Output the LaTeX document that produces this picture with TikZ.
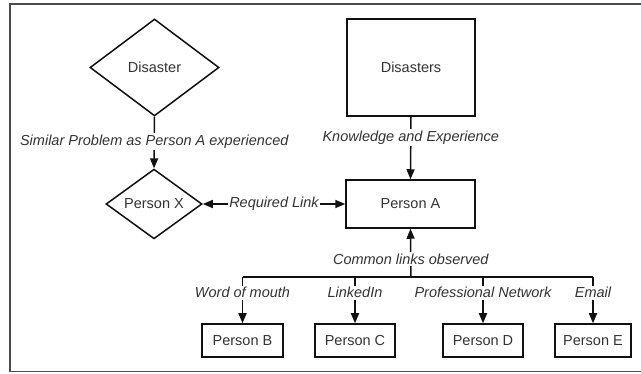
\documentclass[tikz,border=0pt]{standalone}
\usepackage{fontspec}
\setmainfont{Liberation Sans}
\usetikzlibrary{shapes.geometric,arrows.meta}
\definecolor{txt}{HTML}{333333}
\definecolor{ln}{HTML}{111111}
\tikzset{
  base/.style={draw=ln, line width=1.5pt, text=txt, inner sep=0pt, font=\fontsize{14.5}{16}\selectfont},
  dia/.style={base, diamond, minimum width=#1},
  boxnode/.style={base, rectangle},
  conn/.style={draw=ln, line width=1.5pt, -{Triangle[length=10pt,width=8pt]}},
  lbl/.style={fill=white, text=txt, inner sep=1.5pt, font=\fontsize{14.5}{16}\selectfont\itshape}
}
\begin{document}
\begin{tikzpicture}[x=1pt,y=-1pt]
\useasboundingbox (0,0) rectangle (641,374);
\draw[draw=gray!60!black, line width=1.3pt] (642,4) -- (10,4) -- (10,371.5) -- (642,371.5);

\node[dia=129pt, minimum height=97pt] (dis) at (154.5,67.5) {Disaster};
\node[dia=96pt, minimum height=48pt] (px) at (154,204) {Person X};
\node[boxnode, minimum width=128pt, minimum height=97pt] (diss) at (411,67.5) {Disasters};
\node[boxnode, minimum width=129pt, minimum height=48pt] (pa) at (410.5,204) {Person A};
\node[boxnode, minimum width=81pt, minimum height=33pt] (pb) at (242.5,340.5) {Person B};
\node[boxnode, minimum width=80pt, minimum height=33pt] (pc) at (355,340.5) {Person C};
\node[boxnode, minimum width=80pt, minimum height=33pt] (pd) at (483,340.5) {Person D};
\node[boxnode, minimum width=76pt, minimum height=33pt] (pe) at (593,340.5) {Person E};

\coordinate (bus) at (411,277);
\coordinate (busb) at (242.5,277);
\coordinate (busc) at (355,277);
\coordinate (busd) at (483,277);
\coordinate (buse) at (593,277);

\draw[conn] (dis.south) -- node[lbl, pos=0.48] {Similar Problem as Person A experienced} (px.north);
\draw[conn] (diss.south) -- node[lbl, pos=0.33] {Knowledge and Experience} (pa.north);
\draw[conn, {Triangle[length=10pt,width=8pt]}-{Triangle[length=10pt,width=8pt]}] (px.east) -- node[lbl, inner sep=1pt] {Required Link} (pa.west);
\draw[conn] (bus) -- node[lbl, pos=0.37] {Common links observed} (pa.south);
\draw[draw=ln, line width=1.5pt] (busb) -- (buse);
\draw[conn] (busb) -- node[lbl, pos=0.34] {Word of mouth} (pb.north);
\draw[conn] (busc) -- node[lbl, pos=0.34] {LinkedIn} (pc.north);
\draw[conn] (busd) -- node[lbl, pos=0.34] {Professional Network} (pd.north);
\draw[conn] (buse) -- node[lbl, pos=0.34] {Email} (pe.north);
\end{tikzpicture}
\end{document}
